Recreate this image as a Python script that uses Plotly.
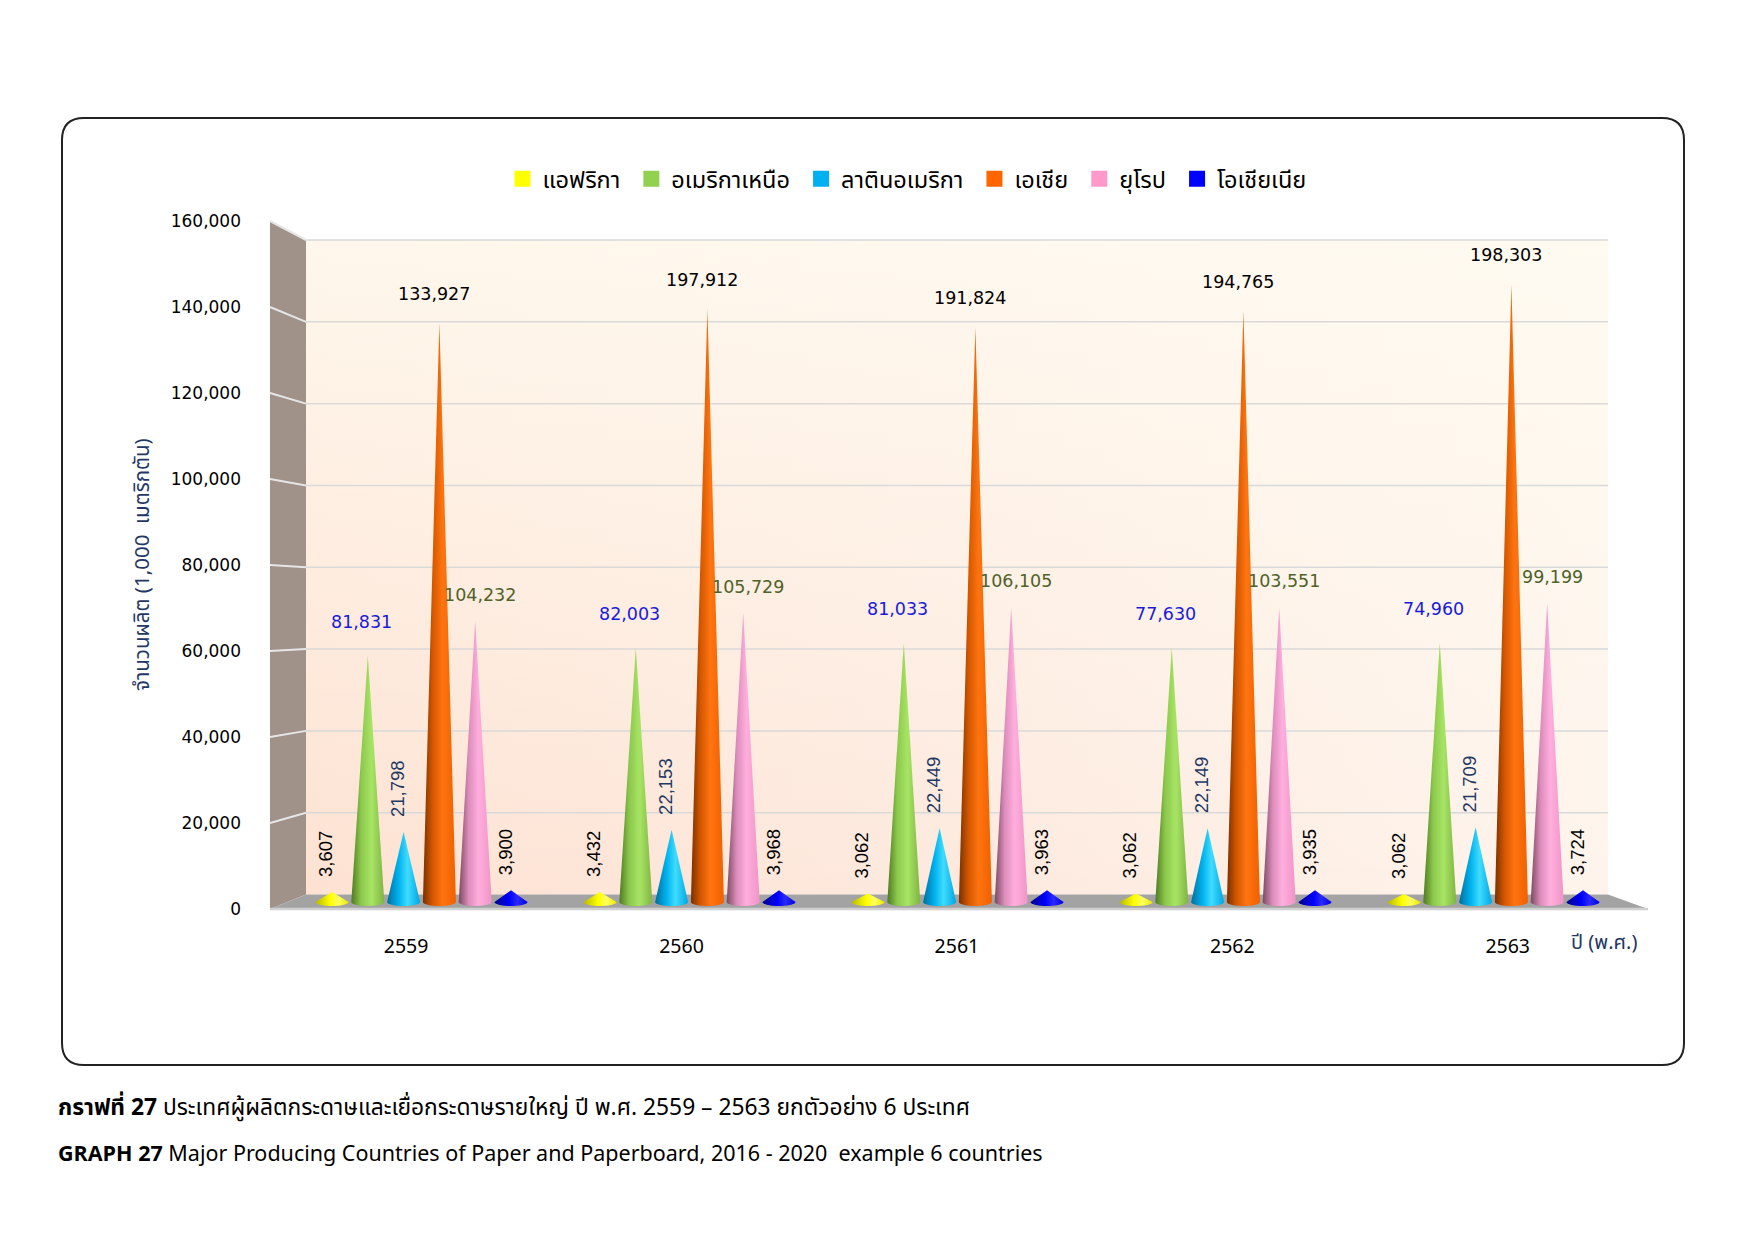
import numpy as np
import plotly.graph_objects as go

# ---- data ----
years = ['2559', '2560', '2561', '2562', '2563']
regions = ['แอฟริกา', 'อเมริกาเหนือ', 'ลาตินอเมริกา', 'เอเชีย', 'ยุโรป', 'โอเชียเนีย']

# cone heights as they are drawn in the chart
africa = [2400, 2400, 2000, 2000, 1900]
north_america = [58700, 60600, 61700, 60600, 61700]
latin_america = [16700, 17200, 17600, 17600, 17800]
asia = [138000, 141300, 136900, 140900, 147200]
europe = [67000, 68900, 70200, 70200, 71300]
oceania = [2800, 2800, 2800, 2800, 2800]

# data labels as printed on the chart
africa_lbl = [3607, 3432, 3062, 3062, 3062]
north_america_lbl = [81831, 82003, 81033, 77630, 74960]
latin_america_lbl = [21798, 22153, 22449, 22149, 21709]
asia_lbl = [133927, 197912, 191824, 194765, 198303]
europe_lbl = [104232, 105729, 106105, 103551, 99199]
oceania_lbl = [3900, 3968, 3963, 3935, 3724]

y_ticks = [0, 20000, 40000, 60000, 80000, 100000, 120000, 140000, 160000]

THAI = "Noto Sans Thai, Tahoma, Noto Sans, sans-serif"
NUM = "DejaVu Sans, Verdana, sans-serif"

W, H = 1755, 1241
OFF = 8  # page margin around the plot div

# positions below are page pixels
# mid plane (where the cones stand)
X0, GW = 421.5, 268.0
Y0, Y160 = 902.0, 230.5
YK = 160000 / (Y0 - Y160)
# front and back planes of the 3d box
FX0, FGW = 406.1, 275.4
FY0, FY160 = 909.0, 221.0
BY0, BY160 = 894.5, 240.0
FRONT_L, BACK_L, BACK_R, FRONT_R = 270, 306, 1608, 1648
SPACING = 35.8 / GW
HW = 16.5 / GW
EH = 4 * YK


def px_x(px):
    return (px - X0) / GW


def px_y(py):
    return (Y0 - py) * YK


def front_y(v):
    return px_y(FY0 - v * (FY0 - FY160) / 160000)


def back_y(v):
    return px_y(BY0 - v * (BY0 - BY160) / 160000)


def paper_x(px):
    return (px - OFF) / W


def paper_y(py):
    return 1 - (py - OFF) / H


fig = go.Figure()

# back wall with two gradient layers
wall_x = [px_x(BACK_L), px_x(BACK_R), px_x(BACK_R), px_x(BACK_L)]
wall_y = [back_y(0), back_y(0), back_y(160000), back_y(160000)]
fig.add_trace(go.Scatter(x=wall_x, y=wall_y, fill='toself', mode='none', hoverinfo='skip',
                         showlegend=False,
                         fillgradient=dict(type='horizontal',
                                           colorscale=[[0, '#fde2d2'], [0.5, '#fde9de'], [1, '#fef4ec']])))
fig.add_trace(go.Scatter(x=wall_x, y=wall_y, fill='toself', mode='none', hoverinfo='skip',
                         showlegend=False,
                         fillgradient=dict(type='vertical',
                                           colorscale=[[0, 'rgba(255,252,242,0)'], [1, 'rgba(255,252,242,0.8)']])))

# grid lines on back wall and left wall
gx, gy, lx, ly = [], [], [], []
for v in y_ticks[1:]:
    gx += [px_x(BACK_L), px_x(BACK_R), None]
    gy += [back_y(v), back_y(v), None]
    lx += [px_x(FRONT_L), px_x(BACK_L), None]
    ly += [front_y(v), back_y(v), None]
fig.add_trace(go.Scatter(x=gx, y=gy, mode='lines', line=dict(color='#d9d9d9', width=1.5),
                         hoverinfo='skip', showlegend=False))

# left wall
fig.add_trace(go.Scatter(x=[px_x(FRONT_L), px_x(FRONT_L), px_x(BACK_L), px_x(BACK_L)],
                         y=[front_y(0), front_y(160000), back_y(160000), back_y(0)],
                         fill='toself', mode='none', fillcolor='#a09189', hoverinfo='skip', showlegend=False))
fig.add_trace(go.Scatter(x=lx, y=ly, mode='lines', line=dict(color='#e6e6e6', width=2),
                         hoverinfo='skip', showlegend=False))

# floor
fig.add_trace(go.Scatter(x=[px_x(FRONT_L), px_x(BACK_L), px_x(BACK_R), px_x(FRONT_R)],
                         y=[front_y(0), back_y(0), back_y(0), front_y(0)],
                         fill='toself', mode='none', fillcolor='#a3a3a3', hoverinfo='skip', showlegend=False))
fig.add_trace(go.Scatter(x=[px_x(FRONT_L), px_x(FRONT_R)], y=[front_y(0), front_y(0)], mode='lines',
                         line=dict(color='#d0d0d0', width=2.5), hoverinfo='skip', showlegend=False))

series = [
    (africa, africa_lbl, '#ffff00', [[0, '#b8b800'], [0.45, '#ffff00'], [0.7, '#ffff60'], [1, '#e8e800']], 'v', '#000000'),
    (north_america, north_america_lbl, '#92d050', [[0, '#4e7a22'], [0.3, '#8cc84c'], [0.62, '#a8e464'], [1, '#7fb444']], 'h', '#1a1adb'),
    (latin_america, latin_america_lbl, '#00b0f0', [[0, '#006f9e'], [0.35, '#00b2ee'], [0.62, '#3fdcff'], [1, '#00a6e4']], 'v', '#1f3864'),
    (asia, asia_lbl, '#ff6600', [[0, '#7a3000'], [0.3, '#d55800'], [0.6, '#ff7410'], [1, '#f06000']], 'h', '#000000'),
    (europe, europe_lbl, '#ff99cc', [[0, '#7a4a62'], [0.3, '#dc8cba'], [0.6, '#ffaede'], [1, '#f094c6']], 'h', '#4f6228'),
    (oceania, oceania_lbl, '#0000ff', [[0, '#000088'], [0.45, '#0000ff'], [0.7, '#2a2aff'], [1, '#0000dd']], 'v', '#000000'),
]

t = np.linspace(0, np.pi, 31)
annotations = []
for j, (vals, lbls, color, shade, orient, lcolor) in enumerate(series):
    for i, (h, lab) in enumerate(zip(vals, lbls)):
        xc = i + (j - 2.5) * SPACING
        xs = [xc] + list(xc + HW * np.cos(t)) + [xc]
        ys = [h] + list(-EH * np.sin(t)) + [h]
        fig.add_trace(go.Scatter(x=xs, y=ys, fill='toself', mode='none', hoverinfo='skip',
                                 showlegend=False,
                                 fillgradient=dict(type='horizontal', colorscale=shade)))
        if orient == 'h':
            annotations.append(dict(x=xc, y=h, text=f'{lab:,}', showarrow=False, textangle=0,
                                    xanchor='center', yanchor='bottom',
                                    yshift={1: 22, 3: 17, 4: 14}[j], xshift={1: -6, 3: -5, 4: 5}[j],
                                    font=dict(family=NUM, size=17.5, color=lcolor)))
        else:
            annotations.append(dict(x=xc, y=h, text=f'{lab:,}', showarrow=False, textangle=-90,
                                    xanchor='center', yanchor='bottom', yshift=13, xshift=-6,
                                    font=dict(family="Liberation Sans, Arial, sans-serif", size=18.5, color=lcolor)))

# legend entries
for name, (_, _, color, _, _, _) in zip(regions, series):
    fig.add_trace(go.Scatter(x=[None], y=[None], mode='markers', name=name + '\u00a0',
                             marker=dict(symbol='square', size=21, color=color)))

# front-plane axes carrying the tick labels
fig.add_trace(go.Scatter(x=[None], y=[None], xaxis='x2', yaxis='y2', showlegend=False, hoverinfo='skip'))

# text annotations
annotations += [
    dict(x=paper_x(142), y=paper_y(565), xref='paper', yref='paper', text='จำนวนผลิต (1,000  เมตริกตัน)',
         textangle=-90, xanchor='center', yanchor='middle', showarrow=False,
         font=dict(family=THAI, size=20.5, color='#1f3864')),
    dict(x=paper_x(1604), y=paper_y(943), xref='paper', yref='paper', text='ปี (พ.ศ.)', showarrow=False,
         xanchor='center', yanchor='middle', font=dict(family=THAI, size=20, color='#1f3864')),
    dict(x=paper_x(56), y=paper_y(1108), xref='paper', yref='paper', xanchor='left', yanchor='middle',
         showarrow=False,
         text='<b>กราฟที่ 27</b> ประเทศผู้ผลิตกระดาษและเยื่อกระดาษรายใหญ่ ปี พ.ศ. 2559 – 2563 ยกตัวอย่าง 6 ประเทศ',
         font=dict(family=THAI, size=22.8, color='#000000')),
    dict(x=paper_x(56), y=paper_y(1154), xref='paper', yref='paper', xanchor='left', yanchor='middle',
         showarrow=False,
         text='<b>GRAPH 27</b> Major Producing Countries of Paper and Paperboard, 2016 - 2020  example 6 countries',
         font=dict(family=THAI, size=21.5, color='#000000')),
]

# rounded frame
x0, x1 = paper_x(62), paper_x(1684)
yt, yb = paper_y(118), paper_y(1065)
rx, ry = 22 / W, 22 / H
frame_path = (f'M {x0 + rx},{yt} L {x1 - rx},{yt} Q {x1},{yt} {x1},{yt - ry} '
              f'L {x1},{yb + ry} Q {x1},{yb} {x1 - rx},{yb} L {x0 + rx},{yb} '
              f'Q {x0},{yb} {x0},{yb + ry} L {x0},{yt - ry} Q {x0},{yt} {x0 + rx},{yt} Z')

fig.update_layout(
    width=W, height=H,
    margin=dict(l=0, r=0, t=0, b=0),
    paper_bgcolor='white', plot_bgcolor='rgba(0,0,0,0)',
    xaxis=dict(range=[px_x(OFF), px_x(W + OFF)], visible=False, fixedrange=True),
    yaxis=dict(range=[px_y(H + OFF), px_y(OFF)], visible=False, fixedrange=True),
    xaxis2=dict(overlaying='x', anchor='free', position=paper_y(932),
                range=[(OFF - FX0) / FGW, (W + OFF - FX0) / FGW],
                tickvals=list(range(len(years))), ticktext=years, showgrid=False, zeroline=False,
                showline=False, ticks='', tickfont=dict(family=THAI, size=19.5, color='#000000')),
    yaxis2=dict(overlaying='y', anchor='free', position=paper_x(241), side='left',
                range=[-(H + OFF - FY0) * 160000 / (FY0 - FY160), (FY0 - OFF) * 160000 / (FY0 - FY160)],
                tickvals=y_ticks, tickformat=',', showgrid=False, zeroline=False, showline=False,
                ticks='', tickfont=dict(family=NUM, size=17, color='#000000')),
    legend=dict(orientation='h', x=paper_x(910), xanchor='center', y=paper_y(179), yanchor='middle',
                font=dict(family=THAI, size=23.5, color='#000000'), bgcolor='rgba(0,0,0,0)'),
    annotations=annotations,
    shapes=[dict(type='path', path=frame_path, xref='paper', yref='paper',
                 line=dict(color='#222222', width=2))],
)

fig.write_html("out.html")
